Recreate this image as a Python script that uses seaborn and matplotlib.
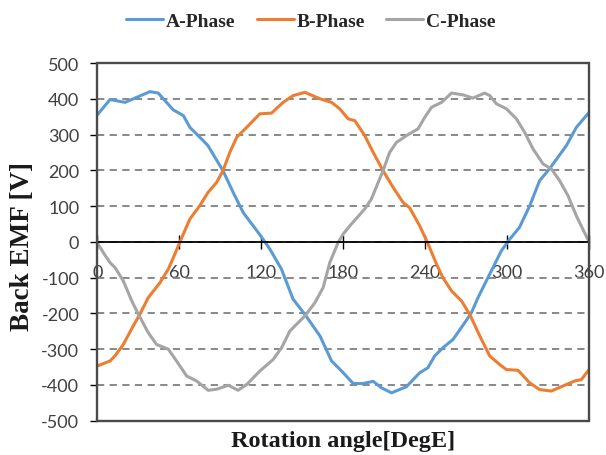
import matplotlib
matplotlib.use("Agg")
import matplotlib.pyplot as plt
from matplotlib.patches import Rectangle
import seaborn as sns
import pandas as pd

# ---- data ----
a_angle = [0, 9.3, 20.3, 38.5, 44.6, 55.6, 63, 67.8, 77.5, 81, 92, 99.5, 106.8, 119,
           126.3, 134.8, 143.3, 152, 163, 171.5, 178.8, 187.3, 194.6, 202, 208,
           215.4, 226.3, 236, 242, 247, 253, 260.4, 269, 273.9, 278.7, 287.3, 295.8,
           302, 309, 316.6, 323.8, 331, 343.4, 350.7, 360]
a_emf = [355, 398, 390, 420, 416, 369, 353, 320, 283, 269, 199, 138, 82, 20,
         -20, -76, -160, -203, -263, -333, -361, -396, -396, -390, -408,
         -422, -405, -366, -352, -319, -296, -273, -226, -198, -156, -90, -25,
         8, 40, 101, 171, 204, 269, 320, 362]

b_angle = [0, 9.3, 12.9, 19, 26.3, 31.2, 37.3, 45.9, 52, 56.8, 60.5, 67.8, 75, 81,
           87.3, 92, 97, 102, 109.3, 119, 127.6, 136, 143.4, 152, 163, 171.5, 177.5,
           183.6, 188.5, 195.8, 202, 209.2, 216.6, 223.9, 228.7, 236, 242.2, 248.3,
           253, 259.3, 266.6, 272.6, 280, 287.3, 294.6, 299.5, 308, 316.5, 323.8,
           332.4, 340.9, 349.5, 354.4, 360]
b_emf = [-347, -333, -319, -287, -235, -202, -156, -114, -76, -34, 0, 64, 101, 138,
         166, 199, 250, 292, 320, 358, 360, 390, 409, 418, 400, 390, 372,
         344, 339, 297, 250, 199, 152, 110, 95, 45, -6, -62,
         -100, -137, -165, -202, -263, -319, -343, -357, -359, -394, -413,
         -417, -403, -389, -385, -357]

c_angle = [0, 4.4, 9.3, 13, 19, 25.2, 30, 37.3, 43.4, 52, 58, 65.4, 72.7, 81.2, 87.3,
           96, 103, 109.3, 119, 128.7, 134.9, 141, 152, 159.3, 165.3, 170.2, 176.3,
           180, 184.9, 195.8, 200.7, 205.6, 209.2, 214, 219, 226.3, 234.8, 239.7,
           244.6, 252, 259.3, 267.7, 275, 283.6, 287.3, 292.2, 299.5, 306.8, 312.9,
           319, 326.3, 332.4, 338.5, 344.6, 350.7, 360]
c_emf = [-3, -30, -58, -72, -109, -165, -202, -254, -287, -300, -333, -375, -389, -415, -412,
         -401, -415, -399, -361, -329, -296, -249, -207, -170, -128, -58, -2,
         22, 45, 92, 120, 166, 199, 250, 278, 297, 316, 348,
         376, 390, 416, 411, 402, 416, 409, 386, 372, 344, 306,
         260, 218, 204, 171, 129, 73, 0]

phases = ["A-Phase", "B-Phase", "C-Phase"]
colors = ["#5B9BD5", "#ED7D31", "#A5A5A5"]
x_ticks = [0, 60, 120, 180, 240, 300, 360]
y_ticks = [-500, -400, -300, -200, -100, 0, 100, 200, 300, 400, 500]

df = pd.concat([
    pd.DataFrame({"angle": a_angle, "emf": a_emf, "phase": phases[0]}),
    pd.DataFrame({"angle": b_angle, "emf": b_emf, "phase": phases[1]}),
    pd.DataFrame({"angle": c_angle, "emf": c_emf, "phase": phases[2]}),
], ignore_index=True)

sns.set_theme(style="white")
plt.rcParams["font.family"] = ["Lato", "DejaVu Sans"]

fig = plt.figure(figsize=(6.06, 4.56), dpi=100)
ax = fig.add_axes([0.1606, 0.0752, 0.8114, 0.7844])

sns.lineplot(data=df, x="angle", y="emf", hue="phase", hue_order=phases,
             palette=dict(zip(phases, colors)), estimator=None, sort=True,
             linewidth=2.2, ax=ax, zorder=3)

ax.set_xlim(0, 360)
ax.set_ylim(-500, 500)
ax.set_xticks(x_ticks)
ax.set_yticks(y_ticks)
ax.set_xticklabels([str(t) for t in x_ticks])
ax.set_yticklabels([str(t) for t in y_ticks])

# grid
ax.yaxis.grid(True, linestyle=(0, (4, 3)), color="#7f7f7f", linewidth=1.3, zorder=0)
ax.xaxis.grid(False)
ax.set_axisbelow(True)

# spines: x axis at y=0, frame around plot area
for s in ["top", "right"]:
    ax.spines[s].set_visible(False)
ax.spines["bottom"].set_position(("data", 0))
ax.spines["bottom"].set_color("black")
ax.spines["bottom"].set_linewidth(1.3)
ax.spines["bottom"].set_zorder(4)
ax.spines["left"].set_color("black")
ax.spines["left"].set_linewidth(1.3)
ax.add_patch(Rectangle((0, 0), 1, 1, transform=ax.transAxes, fill=False,
                       edgecolor="#4a4a4a", linewidth=1.7, clip_on=False, zorder=5))

ax.tick_params(axis="x", direction="inout", length=10, width=1.0, color="black",
               pad=11, labelsize=13, labelcolor="#404040", bottom=True)
ax.tick_params(axis="y", direction="out", length=5, width=1.0, color="black",
               pad=8, labelsize=13, labelcolor="#404040", left=True)

ax.set_xlabel("Rotation angle[DegE]", family=["Liberation Serif"], weight="bold",
              fontsize=17.5, color="#1a1a1a")
ax.xaxis.set_label_coords(0.5, -0.054)
ax.xaxis.label.set_va("center")
ax.set_ylabel("Back EMF [V]", family=["Liberation Serif"], weight="bold",
              fontsize=19.5, color="#1a1a1a")
ax.yaxis.set_label_coords(-0.153, 0.49)
ax.yaxis.label.set_va("center")

handles, labels = ax.get_legend_handles_labels()
ax.get_legend().remove()
leg = fig.legend(handles, labels, loc="center", bbox_to_anchor=(0.513, 0.952),
                 ncol=3, frameon=False, handlelength=1.9, handletextpad=0.15,
                 columnspacing=1.1,
                 prop={"family": "Liberation Serif", "weight": "bold", "size": 14})

fig.savefig("out.png", dpi=100)
